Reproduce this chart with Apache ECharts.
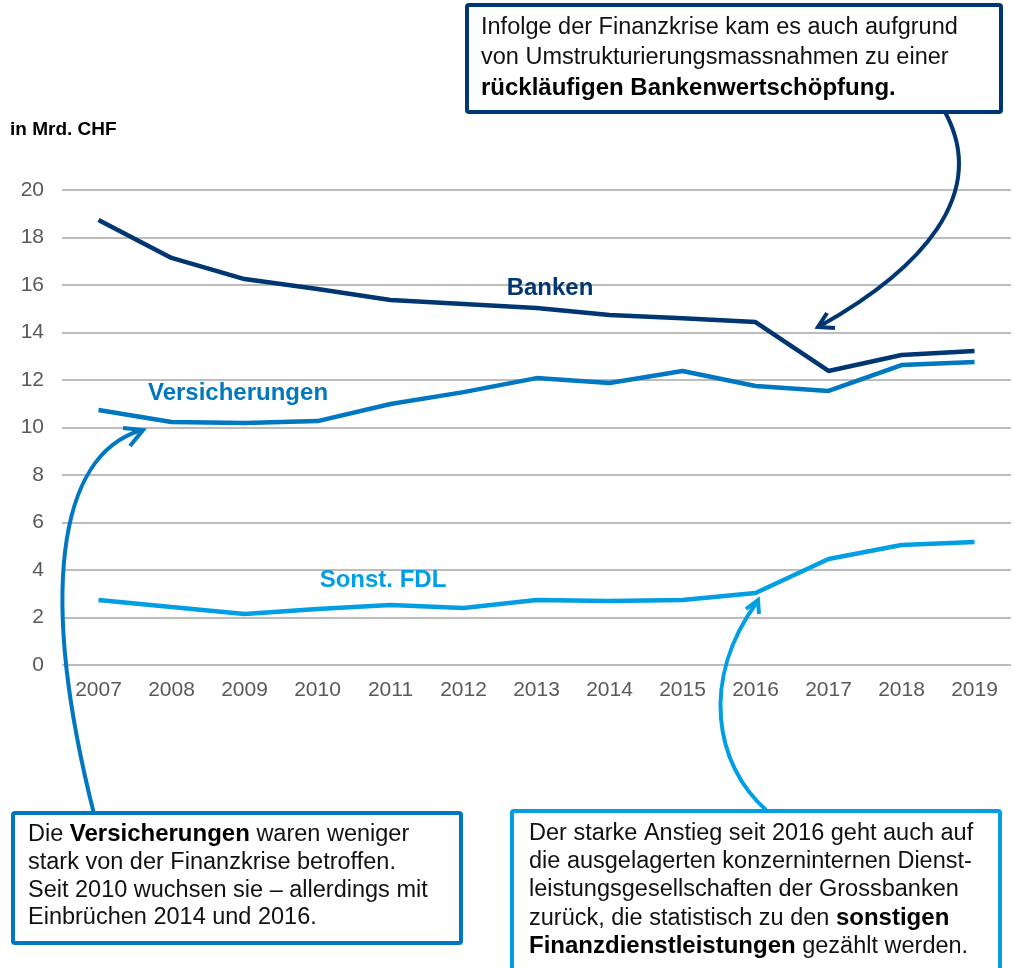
<!DOCTYPE html>
<html>
<head>
<meta charset="utf-8">
<script src="https://cdn.jsdelivr.net/npm/echarts@6/dist/echarts.min.js"></script>
<style>
	html, body { margin:0; padding:0; background:#fff; }
	#myChart { width:1014px; height:968px; }
</style>
</head>
<body>
<div id="myChart"></div>
<script type="text/javascript">
// Daten
var years = ['2007','2008','2009','2010','2011','2012','2013','2014','2015','2016','2017','2018','2019'];
var banken = [18.74, 17.14, 16.25, 15.83, 15.37, 15.20, 15.03, 14.74, 14.60, 14.44, 12.38, 13.05, 13.22];
var versicherungen = [10.74, 10.23, 10.19, 10.27, 10.99, 11.49, 12.08, 11.87, 12.38, 11.75, 11.54, 12.63, 12.76];
var sonstFdl = [2.74, 2.44, 2.15, 2.36, 2.53, 2.40, 2.74, 2.69, 2.74, 3.03, 4.46, 5.05, 5.18];

var cNavy = '#003671';
var cMid = '#0077c1';
var cLight = '#009fe3';
var font = '"Liberation Sans", Arial, sans-serif';

function box(x, y, w, h, color)
{
	return {
		type:'rect',
		shape:{x:x, y:y, width:w, height:h, r:2},
		style:{fill:'#fff', stroke:color, lineWidth:4},
		z:10
	};
}

function richText(x, y, text, lh)
{
	return {
		type:'text',
		x:x, y:y, z:11,
		style:{
			text:text,
			font:'23.5px ' + font,
			fill:'#111',
			lineHeight:lh,
			rich:{
				b:{font:'bold 24px ' + font, fill:'#000', lineHeight:lh}
			}
		}
	};
}

function curve(p, color)
{
	return {
		type:'bezierCurve',
		shape:{x1:p[0], y1:p[1], cpx1:p[2], cpy1:p[3], cpx2:p[4], cpy2:p[5], x2:p[6], y2:p[7]},
		style:{stroke:color, lineWidth:4, fill:null},
		z:9
	};
}

function head(pts, color)
{
	return {
		type:'polyline',
		shape:{points:pts},
		style:{stroke:color, lineWidth:4, fill:null, lineJoin:'miter'},
		z:9
	};
}

function seriesLabel(x, y, text, color)
{
	return {
		type:'text',
		x:x, y:y, z:8,
		style:{text:text, font:'bold 24px ' + font, fill:color, align:'center', verticalAlign:'middle'}
	};
}

var option = {
	backgroundColor:'#fff',
	animation:false,
	grid:{left:62, right:3, top:190, bottom:303},
	xAxis:{
		type:'category',
		data:years,
		boundaryGap:true,
		axisLine:{show:false},
		axisTick:{show:false},
		axisLabel:{color:'#595959', fontSize:21, fontFamily:font, margin:15}
	},
	yAxis:{
		type:'value',
		min:0,
		max:20,
		interval:2,
		axisLine:{show:false},
		axisTick:{show:false},
		axisLabel:{color:'#595959', fontSize:21, fontFamily:font, margin:18},
		splitLine:{lineStyle:{color:'#a6a6a6', width:1.5}}
	},
	series:[
		{name:'Banken', type:'line', data:banken, symbol:'none', lineStyle:{color:cNavy, width:4.5}, z:3},
		{name:'Versicherungen', type:'line', data:versicherungen, symbol:'none', lineStyle:{color:cMid, width:4.5}, z:3},
		{name:'Sonst. FDL', type:'line', data:sonstFdl, symbol:'none', lineStyle:{color:cLight, width:4.5}, z:3}
	],
	graphic:[
		{type:'text', x:10, y:120, style:{text:'in Mrd. CHF', font:'bold 19px ' + font, fill:'#000'}},
		seriesLabel(550, 288, 'Banken', cNavy),
		seriesLabel(238, 393, 'Versicherungen', cMid),
		seriesLabel(383, 580, 'Sonst. FDL', cLight),

		// Pfeile
		curve([945, 112, 990, 195, 920, 270, 820, 326], cNavy),
		head([[827, 313], [818, 327], [835, 328]], cNavy),
		curve([94, 814, 40, 600, 55, 455, 142, 430], cMid),
		head([[123, 428], [143, 430], [130, 446]], cMid),
		curve([766, 810, 715, 765, 700, 680, 757, 602], cLight),
		head([[746, 609], [758, 600], [759, 614]], cLight),

		// Kästen
		box(467, 5, 534, 107, cNavy),
		richText(481, 13, 'Infolge der Finanzkrise kam es auch aufgrund\nvon Umstrukturierungsmassnahmen zu einer\n{b|rückläufigen Bankenwertschöpfung.}', 30),
		box(13, 813, 448, 130, cMid),
		richText(28, 821, 'Die {b|Versicherungen} waren weniger\nstark von der Finanzkrise betroffen.\nSeit 2010 wuchsen sie – allerdings mit\nEinbrüchen 2014 und 2016.', 27.7),
		box(512, 811, 488, 170, cLight),
		richText(529, 819, 'Der starke Anstieg seit 2016 geht auch auf\ndie ausgelagerten konzerninternen Dienst-\nleistungsgesellschaften der Grossbanken\nzurück, die statistisch zu den {b|sonstigen}\n{b|Finanzdienstleistungen} gezählt werden.', 28.3)
	]
};
echarts.init(document.getElementById('myChart')).setOption(option);
</script>
</body>
</html>
